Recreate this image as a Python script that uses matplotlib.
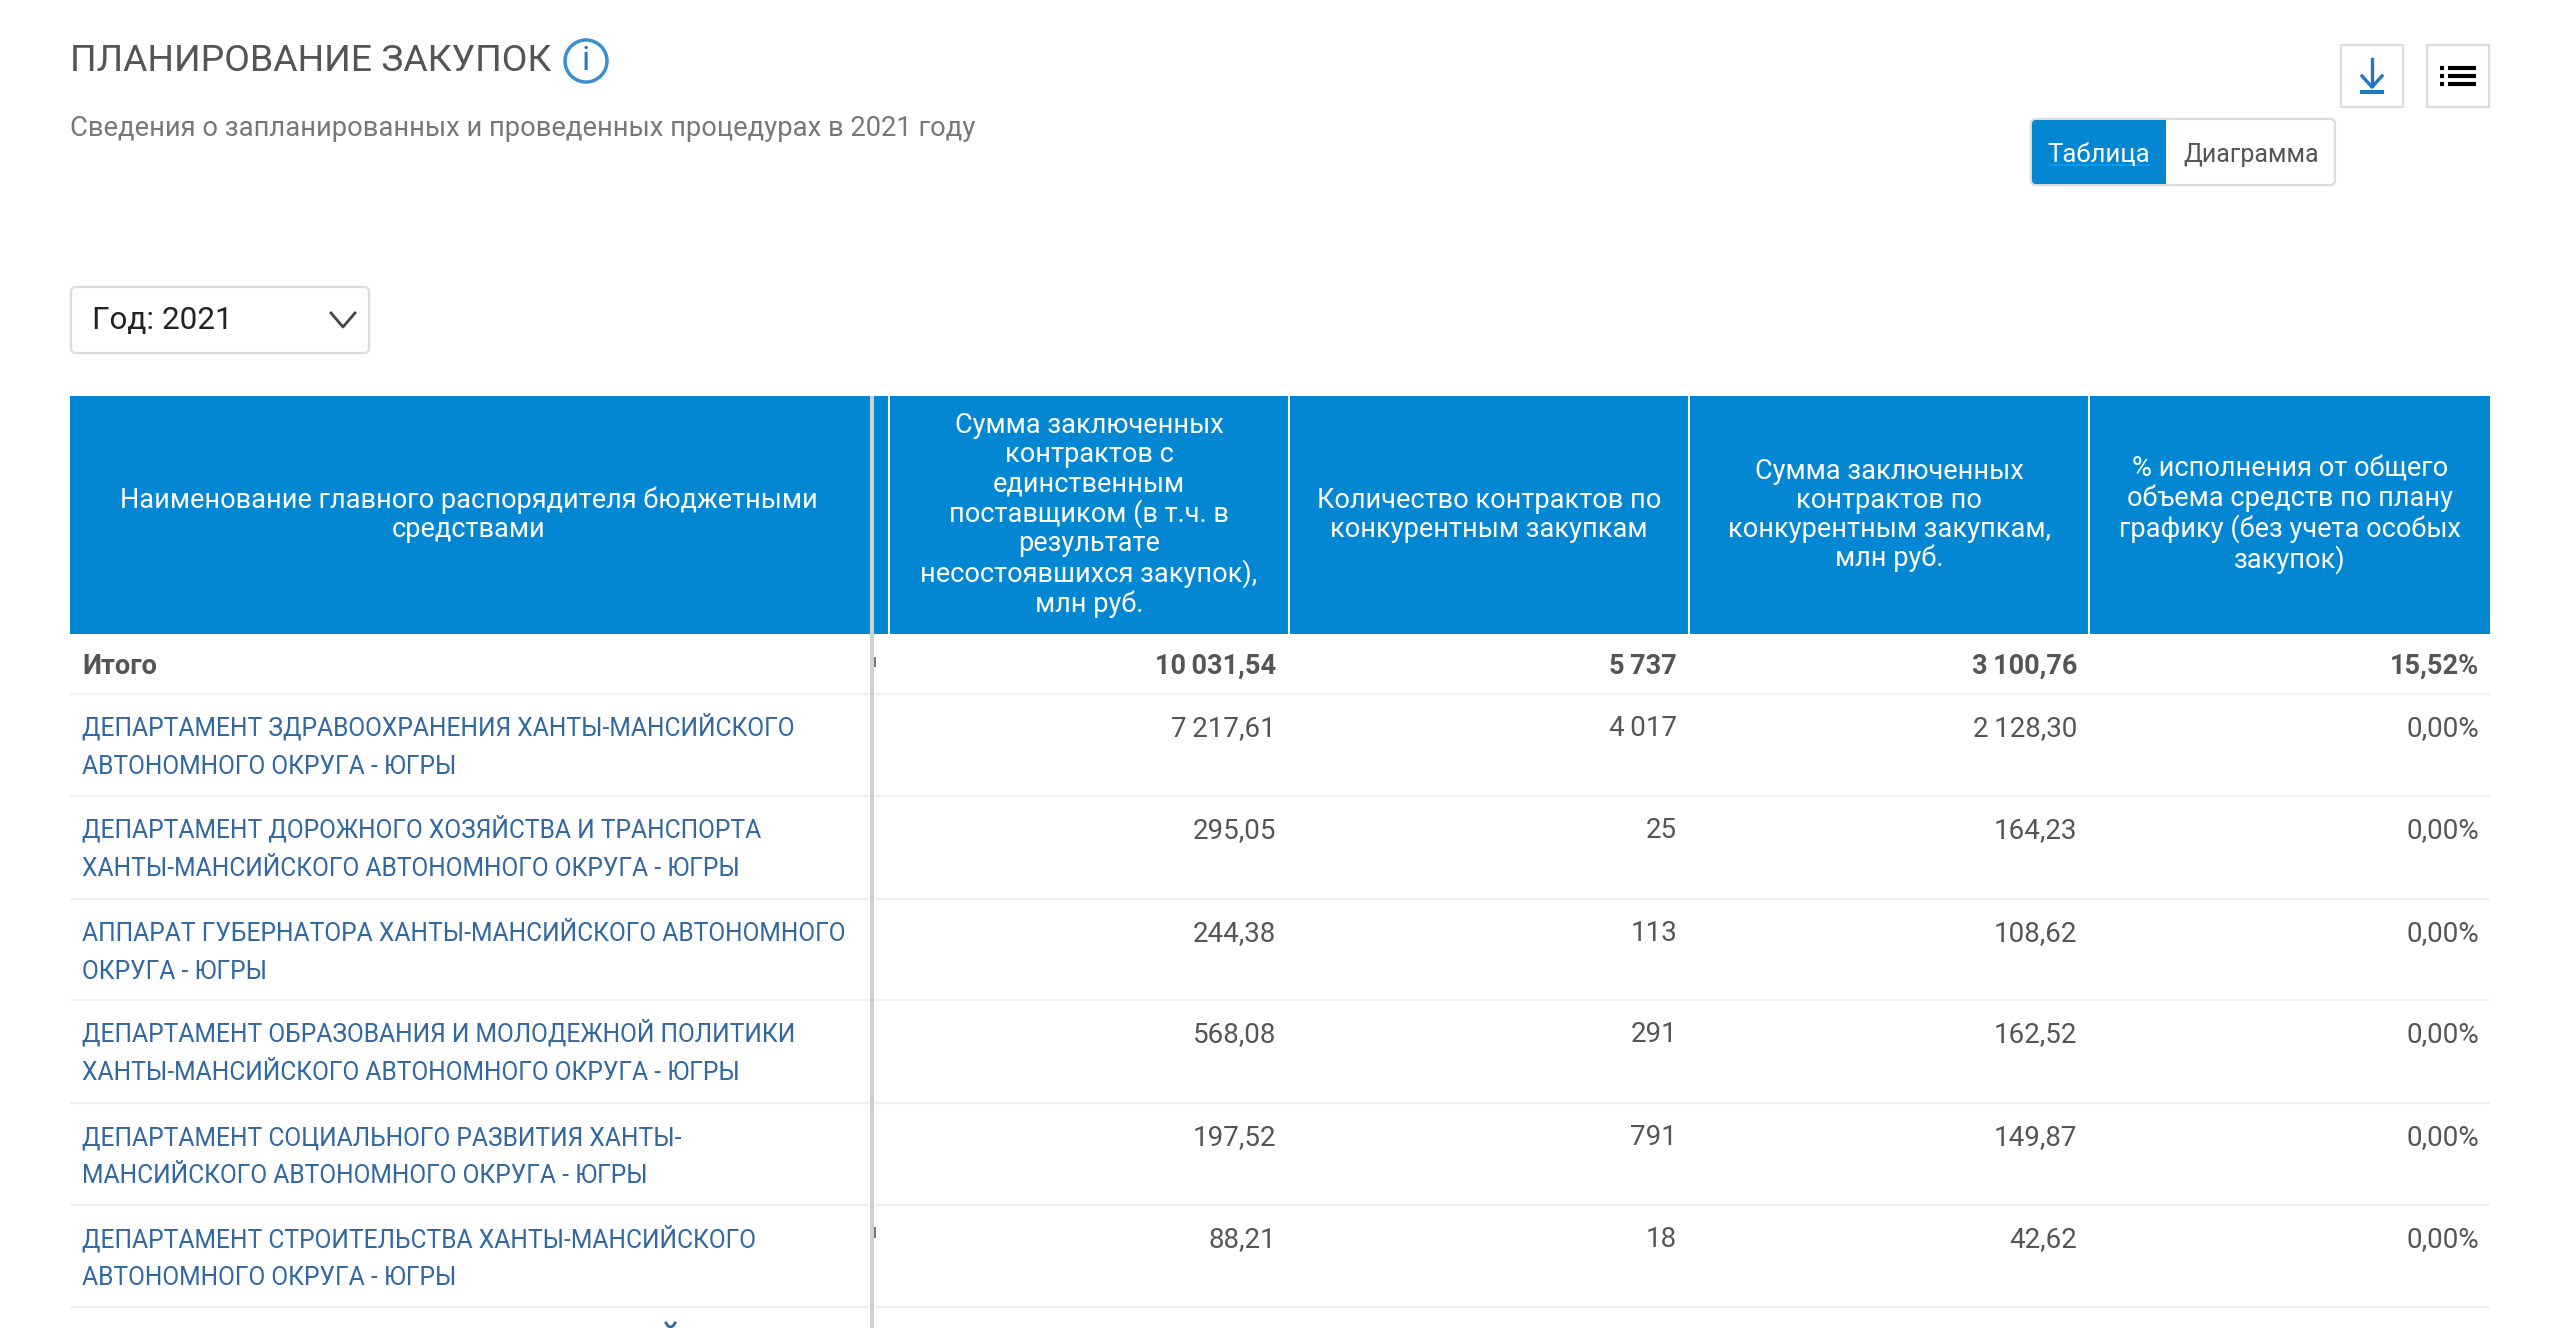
import matplotlib
matplotlib.use('Agg')
import matplotlib.pyplot as plt
from matplotlib.patches import Rectangle, FancyBboxPatch, Circle

plt.rcParams['font.family'] = ['Roboto', 'Noto Sans', 'DejaVu Sans']

BLUE = '#0487d3'
TEXT = '#555555'
LINK = '#31689f'
RULE = '#f1f1f1'
BORDER = '#dcdcdc'

title = 'ПЛАНИРОВАНИЕ ЗАКУПОК'
subtitle = 'Сведения о запланированных и проведенных процедурах в 2021 году'
year_label = 'Год: 2021'

headers = [
    'Наименование главного распорядителя бюджетными\nсредствами',
    'Сумма заключенных\nконтрактов с\nединственным\nпоставщиком (в т.ч. в\nрезультате\nнесостоявшихся закупок),\nмлн руб.',
    'Количество контрактов по\nконкурентным закупкам',
    'Сумма заключенных\nконтрактов по\nконкурентным закупкам,\nмлн руб.',
    '% исполнения от общего\nобъема средств по плану\nграфику (без учета особых\nзакупок)',
]

total_label = 'Итого'
total_sum_single = 10031.54
total_count = 5737
total_sum_comp = 3100.76
total_pct = 15.52

departments = [
    ('ДЕПАРТАМЕНТ ЗДРАВООХРАНЕНИЯ ХАНТЫ-МАНСИЙСКОГО', 'АВТОНОМНОГО ОКРУГА - ЮГРЫ'),
    ('ДЕПАРТАМЕНТ ДОРОЖНОГО ХОЗЯЙСТВА И ТРАНСПОРТА', 'ХАНТЫ-МАНСИЙСКОГО АВТОНОМНОГО ОКРУГА - ЮГРЫ'),
    ('АППАРАТ ГУБЕРНАТОРА ХАНТЫ-МАНСИЙСКОГО АВТОНОМНОГО', 'ОКРУГА - ЮГРЫ'),
    ('ДЕПАРТАМЕНТ ОБРАЗОВАНИЯ И МОЛОДЕЖНОЙ ПОЛИТИКИ', 'ХАНТЫ-МАНСИЙСКОГО АВТОНОМНОГО ОКРУГА - ЮГРЫ'),
    ('ДЕПАРТАМЕНТ СОЦИАЛЬНОГО РАЗВИТИЯ ХАНТЫ-', 'МАНСИЙСКОГО АВТОНОМНОГО ОКРУГА - ЮГРЫ'),
    ('ДЕПАРТАМЕНТ СТРОИТЕЛЬСТВА ХАНТЫ-МАНСИЙСКОГО', 'АВТОНОМНОГО ОКРУГА - ЮГРЫ'),
]
sum_single = [7217.61, 295.05, 244.38, 568.08, 197.52, 88.21]
counts = [4017, 25, 113, 291, 791, 18]
sum_comp = [2128.30, 164.23, 108.62, 162.52, 149.87, 42.62]
pct = [0.00, 0.00, 0.00, 0.00, 0.00, 0.00]


def money(v):
    s = f'{v:,.2f}'.replace(',', '\u2009').replace('.', ',')
    return s


def whole(v):
    return f'{v:,d}'.replace(',', '\u2009')


def percent(v):
    return f'{v:.2f}%'.replace('.', ',')


fig = plt.figure(figsize=(25.6, 13.28), dpi=100)
ax = fig.add_axes([0, 0, 1, 1])
ax.set_xlim(0, 2560)
ax.set_ylim(1328, 0)
ax.axis('off')

# top of the page
ax.text(70, 71, title, fontsize=26.9, color=TEXT, va='baseline')
ax.add_patch(Circle((586, 61), 21, fc='white', ec='#3a8fd0', lw=2.5))
ax.text(586, 61, 'i', fontsize=24, color='#1f78c1', ha='center', va='center')
ax.text(70, 136, subtitle, fontsize=19.7, color='#777777', va='baseline')

# download / menu buttons
ax.add_patch(Rectangle((2341, 45), 62, 62, fc='white', ec=BORDER, lw=1.6))
ax.add_patch(Rectangle((2427, 45), 62, 62, fc='white', ec=BORDER, lw=1.6))
ax.plot([2372, 2372], [59, 86], color='#1f78c1', lw=2.4)
ax.plot([2362, 2372, 2382], [76, 87, 76], color='#1f78c1', lw=2.4)
ax.plot([2362, 2382], [92, 92], color='#1f78c1', lw=3)
for yy in (68, 76, 84):
    ax.plot([2440, 2444], [yy, yy], color='black', lw=3, solid_capstyle='butt')
    ax.plot([2448, 2476], [yy, yy], color='black', lw=3, solid_capstyle='butt')

# Таблица / Диаграмма toggle
ax.add_patch(FancyBboxPatch((2031, 119), 304, 66, boxstyle='round,pad=0,rounding_size=5',
                            fc='white', ec=BORDER, lw=1.6))
ax.add_patch(FancyBboxPatch((2032, 120), 134, 64, boxstyle='round,pad=0,rounding_size=4',
                            fc=BLUE, ec='none'))
ax.add_patch(Rectangle((2150, 120), 16, 64, fc=BLUE, ec='none'))
ax.text(2099, 162, 'Таблица', fontsize=18.5, color='white', ha='center', va='baseline')
ax.plot([2049, 2149], [165, 165], color='#0a9ae8', lw=1.5)
ax.text(2251, 162, 'Диаграмма', fontsize=18, color=TEXT, ha='center', va='baseline')

# year selector
ax.add_patch(FancyBboxPatch((71, 287), 298, 66, boxstyle='round,pad=0,rounding_size=5',
                            fc='white', ec=BORDER, lw=1.6))
ax.text(92, 329, year_label, fontsize=22.7, color='#222222', va='baseline')
ax.plot([331, 343, 355], [313, 327, 313], color='#444444', lw=2)

# table header
col_left = [70, 890, 1290, 1690, 2090]
col_right = [888, 1288, 1688, 2088, 2490]
col_center = [469, 1089, 1489, 1889, 2290]
header_top, header_bottom = 396, 634
for left, right, center, label in zip(col_left, col_right, col_center, headers):
    ax.add_patch(Rectangle((left, header_top), right - left, header_bottom - header_top, fc=BLUE, ec='none'))
    ax.text(center, (header_top + header_bottom) / 2, label, fontsize=19.5, color='white',
            ha='center', va='center', linespacing=1.1)

# rows
num_right = [1276, 1677, 2077, 2479]
row_lines = [694, 796, 899, 1000, 1103, 1205, 1307]
for yy in row_lines:
    ax.plot([70, 2490], [yy, yy], color=RULE, lw=1.6, solid_capstyle='butt')

ax.text(82, 674, total_label, fontsize=19.5, color=TEXT, fontweight='bold', va='baseline')
total_cells = [money(total_sum_single), whole(total_count), money(total_sum_comp), percent(total_pct)]
for x, cell in zip(num_right, total_cells):
    ax.text(x, 674, cell, fontsize=19.5, color=TEXT, fontweight='bold', ha='right', va='baseline')

for i, (line1, line2) in enumerate(departments):
    base = row_lines[i] + 42
    ax.text(82, base, line1, fontsize=17.7, color=LINK, va='baseline')
    ax.text(82, base + 38, line2, fontsize=17.7, color=LINK, va='baseline')
    cells = [money(sum_single[i]), whole(counts[i]), money(sum_comp[i]), percent(pct[i])]
    for x, cell in zip(num_right, cells):
        ax.text(x, base, cell, fontsize=20, color=TEXT, ha='right', va='baseline')

# next row, only the top of its text shows at the bottom edge
ax.plot([666, 668, 670.5, 673, 675], [1323, 1326, 1327, 1326, 1323], color=LINK, lw=2)

# frozen column divider, with slivers of the scrolled text beside it
ax.add_patch(Rectangle((870, 396), 4, 932, fc='#cdd1d4', ec='none', zorder=5))
ax.add_patch(Rectangle((874, 657), 1.5, 10, fc='#777777', ec='none'))
ax.add_patch(Rectangle((874, 1227), 1.5, 11, fc='#777777', ec='none'))

fig.savefig('out.png', dpi=100)
